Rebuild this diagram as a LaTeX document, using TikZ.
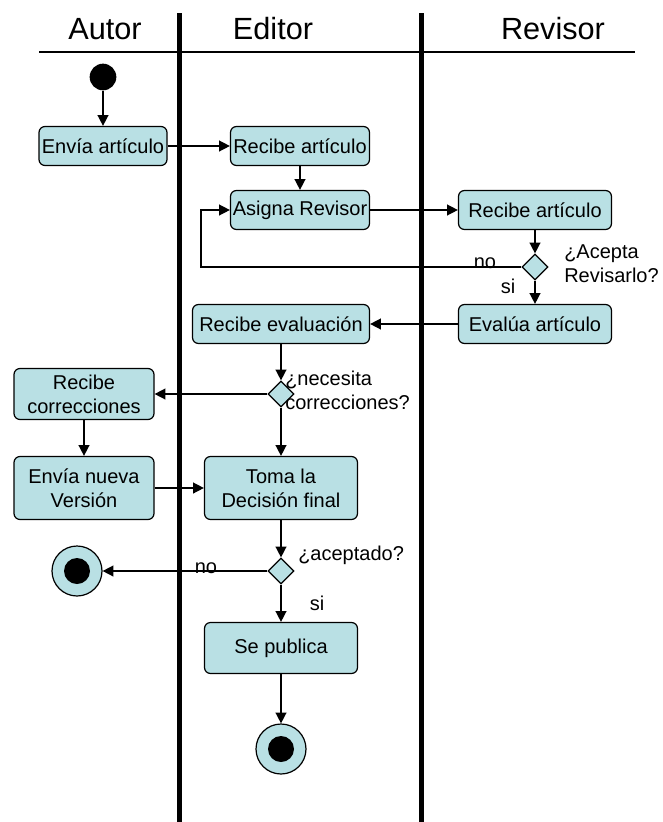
\documentclass[tikz,border=0pt]{standalone}
\usepackage{fontspec}
\setmainfont{Liberation Sans}
\usetikzlibrary{shapes.geometric,arrows.meta}
\definecolor{celeste}{RGB}{185,224,228}

\begin{document}
\begin{tikzpicture}[x=0.75pt, y=-0.75pt,
    actividad/.style={draw, fill=celeste, rounded corners=4.5pt, line width=0.9pt, align=center, inner sep=1pt, font=\fontsize{15}{18}\selectfont},
    decision/.style={draw, fill=celeste, diamond, aspect=1, minimum width=19.5pt, minimum height=19.5pt, inner sep=0pt, line width=0.9pt},
    fin/.style={draw, fill=celeste, circle, minimum size=37.5pt, line width=0.9pt, path picture={\fill[black] (path picture bounding box.center) circle (9.75pt);}},
    flecha/.style={-{Triangle[length=8pt,width=8pt]}, line width=1.1pt},
    etiqueta/.style={font=\fontsize{15}{18}\selectfont, inner sep=0pt},
    carril/.style={font=\fontsize{23}{27}\selectfont, inner sep=0pt}]
    \useasboundingbox (0,0) rectangle (663,822);

    \node[carril, anchor=base] (autor) at (105,39) {Autor};
    \node[carril, anchor=base] (editor) at (273,39) {Editor};
    \node[carril, anchor=base] (revisor) at (553,39) {Revisor};
    \draw[line width=1.1pt] (39,52) -- (635,52);
    \draw[line width=3.75pt] (179,13) -- (179,822);
    \draw[line width=3.75pt] (421,13) -- (421,822);

    \node[circle, fill=black, minimum size=20pt, inner sep=0pt] (inicio) at (103,77) {};
    \node[actividad, minimum width=96pt, minimum height=29.25pt] (envia) at (103,146) {Envía artículo};
    \node[actividad, minimum width=104.25pt, minimum height=29.25pt] (recibeE) at (300,146) {Recibe artículo};
    \node[actividad, minimum width=104.25pt, minimum height=29.25pt] (asigna) at (300,210) {Asigna Revisor};
    \node[actividad, minimum width=114.75pt, minimum height=29.25pt] (recibeR) at (535,210) {Recibe artículo};
    \node[decision] (acepta) at (535,267) {};
    \node[actividad, minimum width=114.75pt, minimum height=29.25pt] (evalua) at (535,324) {Evalúa artículo};
    \node[actividad, minimum width=132.75pt, minimum height=29.25pt] (recibeEv) at (281,324) {Recibe evaluación};
    \node[decision] (corrige) at (281,394) {};
    \node[actividad, minimum width=105pt, minimum height=38.25pt] (recibeC) at (84,394) {Recibe\\correcciones};
    \node[actividad, minimum width=105pt, minimum height=47.25pt] (enviaN) at (84,488) {Envía nueva\\Versión};
    \node[actividad, minimum width=114.75pt, minimum height=47.25pt] (toma) at (281,488) {Toma la\\Decisión final};
    \node[decision] (aceptado) at (281,571) {};
    \node[fin] (fin1) at (77,571) {};
    \node[actividad, minimum width=114.75pt, minimum height=38.25pt] (publica) at (281,648) {Se publica};
    \node[fin] (fin2) at (281,749) {};
    \coordinate (codo) at (201,267);

    \node[etiqueta, anchor=west, align=left] (lblacepta) at (564,264) {¿Acepta\\Revisarlo?};
    \node[etiqueta, anchor=base] (no1) at (485,268) {no};
    \node[etiqueta, anchor=base] (si1) at (508,293) {si};
    \node[etiqueta, anchor=west, align=left] (lblcorrige) at (285,390) {¿necesita\\correcciones?};
    \node[etiqueta, anchor=base west] (lblaceptado) at (298,560) {¿aceptado?};
    \node[etiqueta, anchor=base] (no2) at (206,573) {no};
    \node[etiqueta, anchor=base] (si2) at (317,610) {si};

    \draw[flecha] (inicio) -- (envia);
    \draw[flecha] (envia) -- (recibeE);
    \draw[flecha] (recibeE) -- (asigna);
    \draw[flecha] (asigna) -- (recibeR);
    \draw[flecha] (recibeR) -- (acepta);
    \draw[flecha] (acepta.west) -- (codo) |- (asigna.west);
    \draw[flecha] (acepta) -- (evalua);
    \draw[flecha] (evalua) -- (recibeEv);
    \draw[flecha] (recibeEv) -- (corrige);
    \draw[flecha] (corrige) -- (recibeC);
    \draw[flecha] (corrige) -- (toma);
    \draw[flecha] (recibeC) -- (enviaN);
    \draw[flecha] (enviaN) -- (toma);
    \draw[flecha] (toma) -- (aceptado);
    \draw[flecha] (aceptado) -- (fin1);
    \draw[flecha] (aceptado) -- (publica);
    \draw[flecha] (publica) -- (fin2);
\end{tikzpicture}
\end{document}
